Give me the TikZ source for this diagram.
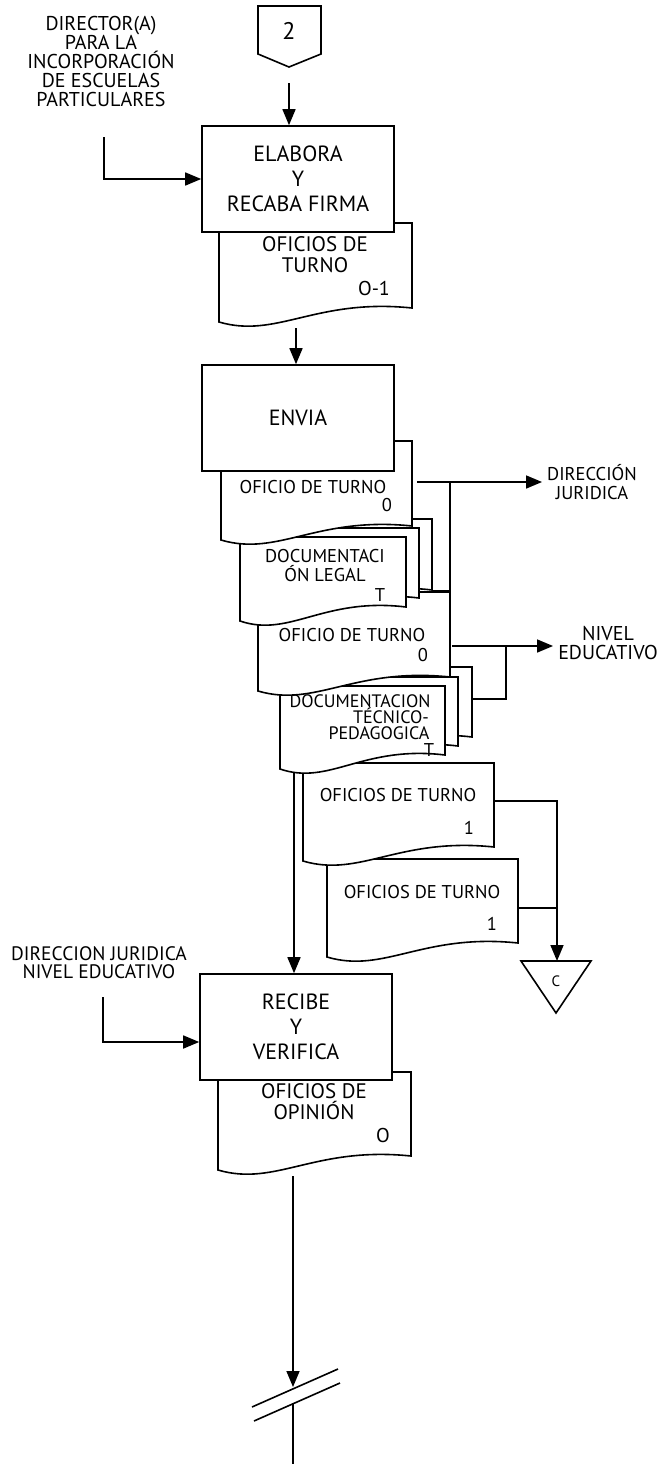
\documentclass[tikz,border=0pt]{standalone}
\usepackage{fontspec}
\setmainfont{PT Sans}
\usetikzlibrary{arrows.meta,calc,positioning}

% document symbol: left, top, right, bottom (right corner)
\newcommand{\docshape}[4]{%
  \draw[dline] (#1,#2) -- (#3,#2) -- (#3,#4)
    .. controls ({#1+0.5*(#3-#1)},{#4-10}) and ({#1+0.3*(#3-#1)},{#4+31})
    .. (#1,{#4+14}) -- cycle;
}

\begin{document}
\begin{tikzpicture}[x=1pt,y=-1pt]

  \useasboundingbox (0,0) rectangle (659,1464);

  \coordinate (Elabora) at (298,179);
  \coordinate (Envia) at (298,418);
  \coordinate (Recibe) at (296,1027);

  \tikzstyle{pbox}=[draw,line width=1.6pt,
                    shape=rectangle,fill=white,
                    minimum width=192pt,minimum height=106pt,
                    align=center,font=\fontsize{22}{25}\selectfont];
  \tikzstyle{dline}=[draw,line width=1.6pt,fill=white];
  \tikzstyle{dtext}=[align=center,inner sep=0pt,
                    font=\fontsize{18.5}{20}\selectfont];
  \tikzstyle{btext}=[align=center,inner sep=0pt,
                    font=\fontsize{21}{21}\selectfont];
  \tikzstyle{ltext}=[align=center,inner sep=0pt,
                    font=\fontsize{20}{19}\selectfont];
  \tikzstyle{flow}=[->,line width=1.6pt,>={Triangle[length=16pt,width=13pt]}];
  \tikzstyle{link}=[line width=1.6pt];

  % connector from page 2
  \draw[dline] (258,6) -- (321,6) -- (321,54) -- (289,67) -- (258,54) -- cycle;
  \node[dtext,font=\fontsize{24}{24}\selectfont] (PageTwo) at (289,31) {2};
  \coordinate (PageTwoOut) at (289,83);

  % elabora
  \docshape{219}{223}{412}{308}
  \node[btext] (DocOne) at (315,255) {OFICIOS DE\\TURNO};
  \node[dtext,font=\fontsize{20}{20}\selectfont] (DocOneKey) at (374,288) {O-1};
  \node[pbox] (ElaboraBox) at (Elabora) {ELABORA\\Y\\RECABA FIRMA};
  \draw[flow] (PageTwoOut) -- (PageTwoOut |- ElaboraBox.north);

  \node[ltext] (Director) at (101,61)
       {DIRECTOR(A)\\PARA LA\\INCORPORACIÓN\\DE ESCUELAS\\PARTICULARES};
  \coordinate (DirStart) at (104,137);
  \draw[flow] (DirStart) |- (ElaboraBox.west);

  \coordinate (DocOneBot) at (296,328);

  % envia and the documents below it
  \docshape{327}{859}{518}{943}
  \node[dtext] (DocF) at (422,892) {OFICIOS DE TURNO};
  \node[dtext] (DocFKey) at (492,924) {1};
  \docshape{303}{763}{494}{847}
  \node[dtext] (DocE) at (398,795) {OFICIOS DE TURNO};
  \node[dtext] (DocEKey) at (469,828) {1};

  \docshape{307}{667}{472}{737}
  \docshape{293}{677}{458}{746}
  \docshape{280}{686}{445}{755}
  \node[dtext,font=\fontsize{18}{16}\selectfont] (DocD) at (375,717)
       {DOCUMENTACION\hspace*{30pt}\\\hspace*{32pt}TÉCNICO-\\\hspace*{8pt}PEDAGOGICA};
  \node[dtext] (DocDKey) at (429,750) {T};

  \docshape{258}{592}{450}{677}
  \node[dtext] (DocC) at (352,635) {OFICIO DE TURNO};
  \node[dtext] (DocCKey) at (423,655) {0};

  \docshape{266}{519}{432}{590}
  \docshape{253}{528}{419}{598}
  \docshape{240}{537}{406}{607}
  \node[dtext,font=\fontsize{18.5}{19}\selectfont] (DocB) at (325,566) {DOCUMENTACI\\ÓN LEGAL};
  \node[dtext] (DocBKey) at (380,595) {T};

  \docshape{221}{441}{412}{526}
  \node[dtext] (DocA) at (313,487) {OFICIO DE TURNO};
  \node[dtext] (DocAKey) at (387,505) {0};

  \node[pbox] (EnviaBox) at (Envia) {ENVIA};
  \draw[flow] (DocOneBot) -- (DocOneBot |- EnviaBox.north);

  % destinations
  \node[dtext,font=\fontsize{18.5}{19}\selectfont] (DirJur) at (592,482) {DIRECCIÓN\\JURIDICA};
  \node[dtext,font=\fontsize{20}{19}\selectfont] (NivEdu) at (608,643) {NIVEL\\EDUCATIVO};

  \coordinate (DocAout) at (417,482);
  \coordinate (JurJoin) at (450,482);
  \coordinate (DocBout) at (432,591);
  \draw[flow] (DocAout) -- ([xshift=-5pt]DirJur.west);
  \draw[link] (DocBout) -| (JurJoin);

  \coordinate (DocCout) at (452,646);
  \coordinate (NivJoin) at (506,646);
  \coordinate (DocDout) at (472,699);
  \draw[flow] (DocCout) -- ([xshift=-5pt]NivEdu.west |- DocCout);
  \draw[link] (DocDout) -| (NivJoin);

  % archive
  \coordinate (ArchTop) at (557,961);
  \draw[dline] (521,961) -- (591,961) -- (556,1013) -- cycle;
  \node[dtext,font=\fontsize{15}{16}\selectfont] (Archive) at (556,981) {C};
  \coordinate (DocEout) at (494,801);
  \coordinate (DocFout) at (518,908);
  \draw[flow] (DocEout) -| (ArchTop);
  \draw[link] (DocFout) -- (DocFout -| ArchTop);

  % recibe
  \docshape{218}{1072}{411}{1156}
  \node[btext] (DocG) at (314,1102) {OFICIOS DE\\OPINIÓN};
  \node[dtext,font=\fontsize{20}{20}\selectfont] (DocGKey) at (383,1135) {O};
  \node[pbox] (RecibeBox) at (Recibe) {RECIBE\\Y\\VERIFICA};

  \coordinate (DocDbot) at (294,772);
  \draw[flow] (DocDbot) -- (DocDbot |- RecibeBox.north);

  \node[ltext,font=\fontsize{19.5}{18}\selectfont] (DirNiv) at (99,963)
       {DIRECCION JURIDICA\\NIVEL EDUCATIVO};
  \coordinate (RecStart) at (103,997);
  \draw[flow] (RecStart) |- ([yshift=-15pt]RecibeBox.west);

  % break in the flow line
  \coordinate (DocGbot) at (293,1176);
  \coordinate (BreakTop) at (293,1387);
  \coordinate (BreakLow) at (293,1404);
  \coordinate (PageEnd) at (293,1464);
  \draw[flow] (DocGbot) -- (BreakTop);
  \draw[link] (252,1407) -- (338,1369);
  \draw[link] (254,1421) -- (340,1383);
  \draw[link] (BreakLow) -- (PageEnd);
\end{tikzpicture}
\end{document}
